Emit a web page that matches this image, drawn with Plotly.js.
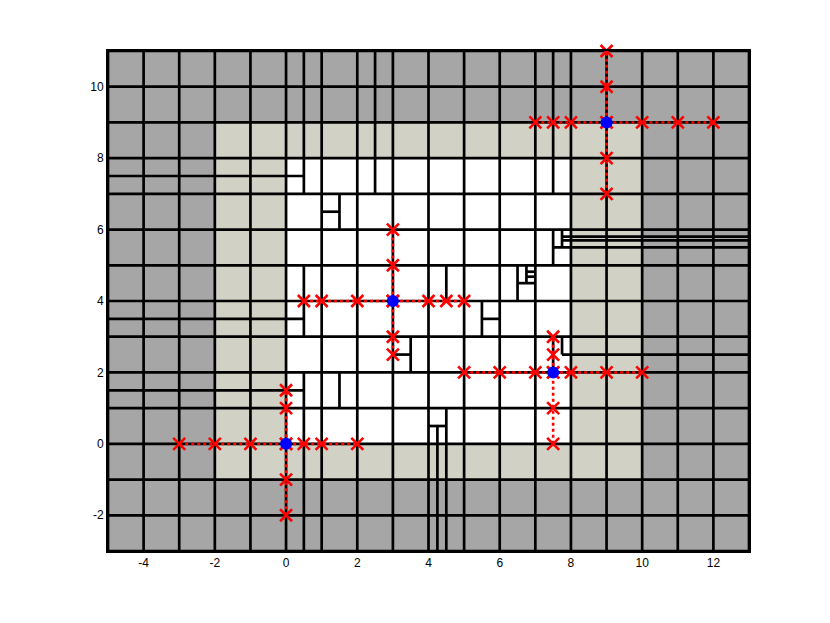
<!DOCTYPE html>
<html><head><meta charset="utf-8">
<script src="https://cdn.plot.ly/plotly-3.0.1.min.js"></script>
<style>html,body{margin:0;padding:0;background:#fff}</style>
</head><body><div id="chart" style="width:830px;height:623px"></div>
<script>
// unit grid lines (full extent)
const gridX = [-5,-4,-3,-2,-1,0,1,2,3,4,5,6,7,8,9,10,11,12,13];
const gridY = [-3,-2,-1,0,1,2,3,4,5,6,7,8,9,10,11];
// coloured regions: outer, middle band, inner
const regionX0 = [-5, -2, 0];
const regionX1 = [13, 10, 8];
const regionY0 = [-3, -1, 0];
const regionY1 = [11, 9, 8];
const regionColor = ['#a6a6a6', '#d1d1c6', '#ffffff'];
// extra vertical refinement segments
const vSegX  = [0.5, 0.5, 0.5, 2.5, 7.5, 7.5, 7.5, 1.5, 1.5, 3.5, 5.5, 6.5, 6.75, 7.75, 7.75, 4.25, 4.5, 4.5];
const vSegY0 = [-3,  3,   7,   7,   7,   5,   2,   6,   1,   2,   3,   4,   4.5,  5.5,  2.5,  -3,   -3,  4];
const vSegY1 = [2,   5,   11,  11,  11,  6,   3,   7,   2,   3,   4,   5,   5,    6,    3,    0.5,  1,   5];
// extra horizontal refinement segments
const hSegY  = [7.5, 6.5, 3.5, 3.5, 1.5, 2.5, 2.5, 5.8, 5.7, 5.5, 4.5, 4.82, 4.68, 0.5];
const hSegX0 = [-5,  1,   -5,  5.5, -5,  3,   7.75, 7.75, 7.75, 7.5, 6.5, 6.75, 6.75, 4];
const hSegX1 = [0.5, 1.5, 0.5, 6,   0.5, 3.5, 13,  13,   13,   13,  7,   7,    7,    4.5];
// stencils: centres and their sample points
const centerX = [0, 3, 7.5, 9];
const centerY = [0, 4, 2, 9];
const stencilHX = [[-3,-2,-1,0,0.5,1,2],[0.5,1,2,3,4,4.5,5],[5,6,7,7.5,8,9,10],[7,7.5,8,9,10,11,12]];
const stencilVY = [[-2,-1,0,1,1.5],[2.5,3,4,5,6],[0,1,2,2.5,3],[7,8,9,10,11]];
// ticks
const xTickVals = [-4,-2,0,2,4,6,8,10,12];
const xTickText = ['-4','-2','0','2','4','6','8','10','12'];
const yTickVals = [-2,0,2,4,6,8,10];
const yTickText = ['-2','0','2','4','6','8','10'];

const traces = [];
for (let i = 0; i < regionX0.length; i++) {
  traces.push({type:'scatter', mode:'lines', hoverinfo:'skip', showlegend:false,
    x:[regionX0[i], regionX1[i], regionX1[i], regionX0[i], regionX0[i]],
    y:[regionY0[i], regionY0[i], regionY1[i], regionY1[i], regionY0[i]],
    fill:'toself', fillcolor:regionColor[i], line:{width:0, color:regionColor[i]}});
}
const lx = [], ly = [];
const yMin = gridY[0], yMax = gridY[gridY.length-1];
const xMin = gridX[0], xMax = gridX[gridX.length-1];
gridX.forEach(v => { lx.push(v, v, null); ly.push(yMin, yMax, null); });
gridY.forEach(v => { lx.push(xMin, xMax, null); ly.push(v, v, null); });
vSegX.forEach((v, i) => { lx.push(v, v, null); ly.push(vSegY0[i], vSegY1[i], null); });
hSegY.forEach((v, i) => { lx.push(hSegX0[i], hSegX1[i], null); ly.push(v, v, null); });
traces.push({type:'scatter', mode:'lines', hoverinfo:'skip', showlegend:false,
  x:lx, y:ly, line:{color:'#000', width:2.7}});

// red dotted stencil lines
const rx = [], ry = [];
centerX.forEach((cx, i) => {
  const hx = stencilHX[i], vy = stencilVY[i];
  rx.push(Math.min(...hx), Math.max(...hx), null); ry.push(centerY[i], centerY[i], null);
  rx.push(cx, cx, null); ry.push(Math.min(...vy), Math.max(...vy), null);
});
traces.push({type:'scatter', mode:'lines', hoverinfo:'skip', showlegend:false,
  x:rx, y:ry, line:{color:'#ff0000', width:2.6, dash:'dot'}});

// red crosses
const mx = [], my = [];
centerX.forEach((cx, i) => {
  stencilHX[i].forEach(v => { mx.push(v); my.push(centerY[i]); });
  stencilVY[i].forEach(v => { mx.push(cx); my.push(v); });
});
traces.push({type:'scatter', mode:'markers', hoverinfo:'skip', showlegend:false, cliponaxis:false,
  x:mx, y:my, marker:{symbol:'x-thin', size:12, color:'#ff0000', line:{color:'#ff0000', width:2.6}}});

// blue centres
traces.push({type:'scatter', mode:'markers', hoverinfo:'skip', showlegend:false, cliponaxis:false,
  x:centerX, y:centerY, marker:{symbol:'circle', size:12, color:'#0000ff', line:{width:0}}});

const layout = {
  width:830, height:623,
  margin:{l:108, r:81, t:51, b:72, pad:0},
  paper_bgcolor:'#fff', plot_bgcolor:'#fff',
  showlegend:false,
  font:{family:'Liberation Sans, Arial, sans-serif', size:12, color:'#000'},
  xaxis:{range:[xMin, xMax], tickvals:xTickVals, ticktext:xTickText, ticks:'', showgrid:false, zeroline:false,
    showline:true, mirror:true, linecolor:'#000', linewidth:2, fixedrange:true},
  yaxis:{range:[yMin, yMax], tickvals:yTickVals, ticktext:yTickText, ticks:'', showgrid:false, zeroline:false,
    showline:true, mirror:true, linecolor:'#000', linewidth:2, fixedrange:true}
};
Plotly.newPlot('chart', traces, layout, {displayModeBar:false, staticPlot:true});
</script></body></html>
